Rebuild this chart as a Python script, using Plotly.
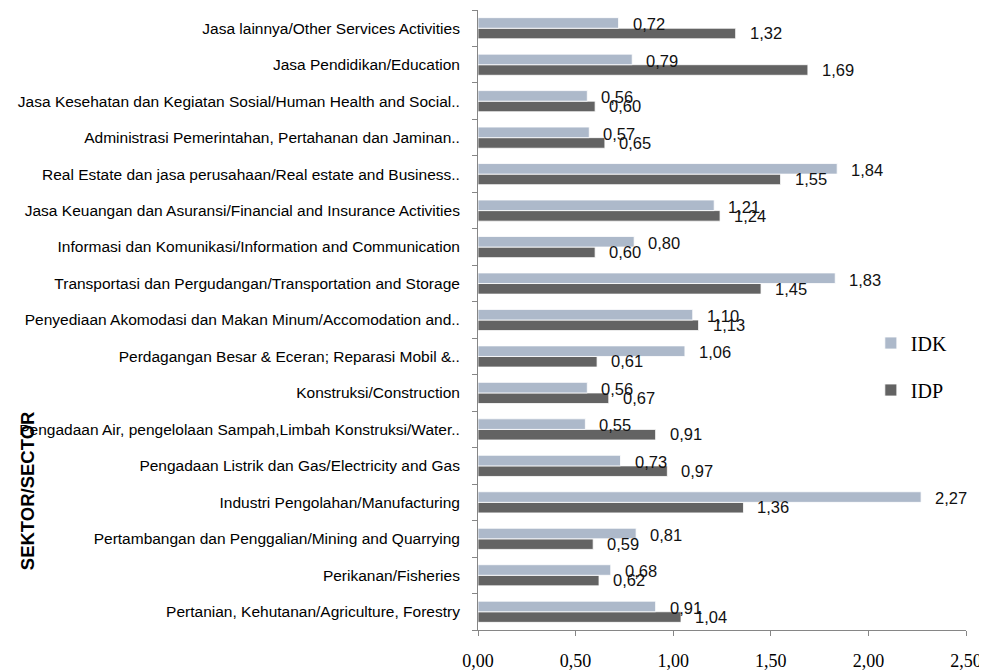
import plotly.graph_objects as go

categories = [
    "Pertanian, Kehutanan/Agriculture, Forestry",
    "Perikanan/Fisheries",
    "Pertambangan dan Penggalian/Mining and Quarrying",
    "Industri Pengolahan/Manufacturing",
    "Pengadaan Listrik dan Gas/Electricity and Gas",
    "Pengadaan Air, pengelolaan Sampah,Limbah Konstruksi/Water..",
    "Konstruksi/Construction",
    "Perdagangan Besar & Eceran; Reparasi Mobil &..",
    "Penyediaan Akomodasi dan Makan Minum/Accomodation and..",
    "Transportasi dan Pergudangan/Transportation and Storage",
    "Informasi dan Komunikasi/Information and Communication",
    "Jasa Keuangan dan Asuransi/Financial and Insurance Activities",
    "Real Estate dan jasa perusahaan/Real estate and Business..",
    "Administrasi Pemerintahan, Pertahanan dan Jaminan..",
    "Jasa Kesehatan dan Kegiatan Sosial/Human Health and Social..",
    "Jasa Pendidikan/Education",
    "Jasa lainnya/Other Services Activities",
]
idk = [0.91, 0.68, 0.81, 2.27, 0.73, 0.55, 0.56, 1.06, 1.10, 1.83, 0.80, 1.21, 1.84, 0.57, 0.56, 0.79, 0.72]
idp = [1.04, 0.62, 0.59, 1.36, 0.97, 0.91, 0.67, 0.61, 1.13, 1.45, 0.60, 1.24, 1.55, 0.65, 0.60, 1.69, 1.32]
x_ticks = [0, 0.5, 1.0, 1.5, 2.0, 2.5]

C_IDK = "#ADB9CA"
C_IDP = "#636363"
SANS = "Liberation Sans, Arial"
SERIF = "Liberation Serif, Times New Roman"

fig = go.Figure()
fig.add_trace(go.Bar(
    y=categories, x=idp, orientation="h", name="IDP",
    marker=dict(color=C_IDP, line=dict(color="white", width=0.8)),
    legendrank=2, legendgroup="b",
))
fig.add_trace(go.Bar(
    y=categories, x=idk, orientation="h", name="IDK",
    marker=dict(color=C_IDK, line=dict(color="white", width=0.8)),
    legendrank=1, legendgroup="a",
))

def fmt(v):
    return f"{v:.2f}".replace(".", ",")

annotations = []
for cat, a, b in zip(categories, idk, idp):
    annotations.append(dict(x=a, y=cat, xref="x", yref="y", text=fmt(a), showarrow=False,
                            xanchor="left", xshift=12, yshift=4,
                            font=dict(family=SANS, size=16.5, color="#111")))
    annotations.append(dict(x=b, y=cat, xref="x", yref="y", text=fmt(b), showarrow=False,
                            xanchor="left", xshift=12, yshift=-5,
                            font=dict(family=SANS, size=16.5, color="#111")))

annotations.append(dict(x=-0.924, y=0.224, xref="paper", yref="paper", text="<b>SEKTOR/SECTOR</b>",
                        textangle=-90, showarrow=False, xanchor="center", yanchor="middle",
                        font=dict(family=SANS, size=18.5, color="#000")))

# page body has an 8px margin; figure is sized/margined to compensate
fig.update_layout(
    width=979, height=663,
    margin=dict(l=470, r=21, t=2, b=41, autoexpand=False),
    paper_bgcolor="white", plot_bgcolor="white",
    separators=",.",
    barmode="group", bargap=0.42, bargroupgap=0.0,
    showlegend=True,
    legend=dict(x=0.805, y=0.425, xanchor="left", yanchor="middle", itemwidth=30,
                font=dict(family=SERIF, size=20, color="#000"),
                traceorder="grouped", tracegroupgap=18, bgcolor="rgba(0,0,0,0)"),
    annotations=annotations,
    xaxis=dict(range=[0, 2.5], tickvals=x_ticks, ticktext=[fmt(v) for v in x_ticks],
               showgrid=False, zeroline=False, showline=True, linecolor="#868686", linewidth=1,
               ticks="outside", ticklen=5, tickcolor="#868686", automargin=False,
               tickfont=dict(family=SERIF, size=18, color="#000"),
               ticklabelstandoff=9),
    yaxis=dict(type="category", showgrid=False, zeroline=False, showline=True,
               linecolor="#868686", linewidth=1, ticks="outside", ticklen=5, tickcolor="#868686",
               tickson="boundaries", automargin=False,
               tickfont=dict(family=SANS, size=15.5, color="#000"),
               ticklabelstandoff=14),
)

fig.write_html("out.html")
